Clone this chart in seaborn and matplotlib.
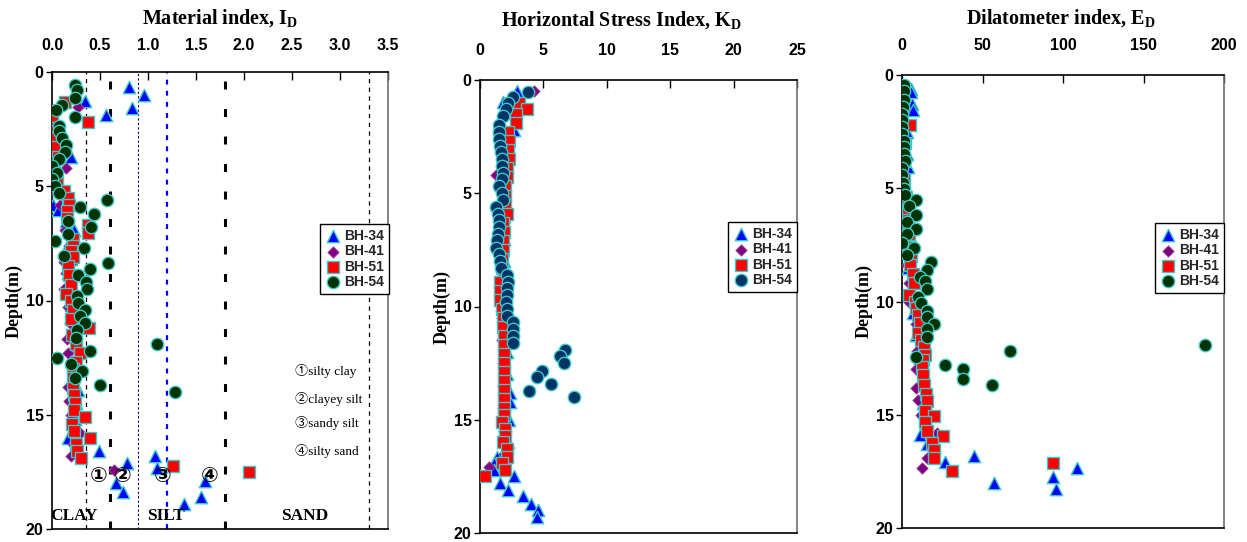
import numpy as np
import matplotlib
matplotlib.use("Agg")
import matplotlib.pyplot as plt
from matplotlib.font_manager import FontProperties
import seaborn as sns

# ---------------- data ----------------
series_names = ["BH-34", "BH-41", "BH-51", "BH-54"]

# Material index I_D
id_bh34_depth = [0.67, 1.0, 1.26, 1.58, 1.88, 2.5, 3.0, 3.7, 4.3, 5.0, 5.8, 6.05, 6.5, 6.9, 7.5,
                 8.2, 8.8, 9.5, 10.2, 10.8, 11.5, 12.0, 12.7, 13.3, 13.9, 14.5, 15.2, 15.6, 16.0,
                 16.6, 16.8, 17.1, 17.35, 17.9, 18.0, 18.4, 18.6, 18.9]
id_bh34_value = [0.80, 0.96, 0.34, 0.83, 0.56, 0.05, 0.08, 0.20, 0.05, 0.02, 0.01, 0.06, 0.15, 0.23, 0.18,
                 0.20, 0.17, 0.18, 0.20, 0.22, 0.25, 0.28, 0.24, 0.22, 0.27, 0.25, 0.24, 0.24, 0.17,
                 0.49, 1.07, 0.78, 1.09, 1.59, 0.67, 0.74, 1.55, 1.37]
id_bh41_depth = [1.55, 2.8, 3.6, 4.2, 5.1, 5.8, 6.9, 7.6, 8.3, 8.8, 9.5, 10.3, 11.0, 11.7, 12.3, 12.9,
                 13.8, 14.4, 15.0, 15.8, 16.3, 16.8, 17.4]
id_bh41_value = [0.27, 0.05, 0.10, 0.15, 0.00, 0.08, 0.14, 0.18, 0.13, 0.15, 0.12, 0.17, 0.19, 0.16, 0.17, 0.20,
                 0.17, 0.18, 0.20, 0.29, 0.22, 0.20, 0.65]
id_bh51_depth = [1.3, 1.92, 2.2, 2.46, 2.6, 2.9, 3.3, 3.7, 4.0, 4.4, 4.8, 5.2, 5.5, 5.8, 6.1, 6.4, 6.7,
                 7.05, 7.3, 7.6, 7.85, 8.1, 8.5, 8.9, 9.3, 9.7, 10.0, 10.4, 10.8, 11.2, 11.5, 11.9,
                 12.3, 12.7, 13.0, 13.4, 13.85, 14.15, 14.5, 14.8, 15.1, 15.4, 15.7, 16.0, 16.3, 16.6,
                 16.9, 17.25, 17.5]
id_bh51_value = [0.135, 0.0, 0.38, 0.0, 0.0, 0.03, 0.04, 0.06, 0.02, 0.03, 0.05, 0.12, 0.17, 0.18, 0.16, 0.16, 0.38,
                 0.37, 0.22, 0.22, 0.20, 0.22, 0.17, 0.18, 0.20, 0.15, 0.20, 0.22, 0.20, 0.39, 0.21, 0.25,
                 0.29, 0.25, 0.22, 0.22, 0.22, 0.23, 0.24, 0.23, 0.34, 0.21, 0.23, 0.40, 0.25, 0.26,
                 0.30, 1.26, 2.05]
id_bh54_depth = [0.55, 0.8, 1.15, 1.45, 1.65, 1.95, 2.35, 2.6, 2.9, 3.2, 3.5, 3.8, 4.1, 4.4, 4.7, 5.0,
                 5.3, 5.6, 5.9, 6.2, 6.5, 6.8, 7.1, 7.4, 7.7, 8.05, 8.35, 8.6, 8.9, 9.2, 9.5, 9.8, 10.1,
                 10.4, 10.7, 11.0, 11.3, 11.65, 11.9, 12.2, 12.5, 12.8, 13.1, 13.4, 13.7, 14.0]
id_bh54_value = [0.24, 0.26, 0.24, 0.10, 0.04, 0.24, 0.07, 0.07, 0.10, 0.15, 0.14, 0.07, 0.00, 0.05, 0.00, 0.03,
                 0.07, 0.57, 0.29, 0.44, 0.17, 0.41, 0.17, 0.03, 0.33, 0.125, 0.58, 0.40, 0.27, 0.35, 0.36, 0.26, 0.27,
                 0.34, 0.29, 0.34, 0.26, 0.25, 1.09, 0.40, 0.05, 0.20, 0.31, 0.24, 0.50, 1.28]

# Horizontal stress index K_D
kd_bh34_depth = [0.5, 0.95, 2.2, 3.0, 4.0, 5.0, 6.0, 7.0, 8.0, 9.0, 10.0, 11.0, 12.0, 13.0, 13.8, 14.2,
                 15.0, 16.0, 16.65, 16.9, 17.2, 17.5, 17.8, 18.1, 18.35, 18.7, 19.0, 19.3]
kd_bh34_value = [2.9, 1.8, 2.7, 2.0, 2.0, 1.8, 1.9, 1.9, 1.9, 2.0, 2.0, 2.0, 2.1, 2.1, 2.4, 2.4,
                 2.3, 2.2, 1.35, 1.1, 1.1, 2.7, 1.6, 2.2, 3.4, 4.0, 4.6, 4.5]
kd_bh41_depth = [0.5, 1.5, 2.5, 4.2, 5.5, 6.5, 7.5, 8.5, 9.5, 10.5, 11.5, 12.5, 13.5, 14.5, 15.5, 16.5, 17.1]
kd_bh41_value = [4.25, 2.2, 2.0, 1.3, 1.6, 1.5, 1.6, 1.7, 1.6, 1.7, 1.7, 1.8, 1.8, 1.8, 1.9, 1.9, 0.7]
kd_bh51_depth = [1.0, 1.3, 1.5, 1.9, 2.3, 2.7, 3.1, 3.5, 3.9, 4.3, 4.7, 5.1, 5.5, 5.9, 6.3, 6.7, 7.1,
                 7.5, 7.9, 8.3, 8.9, 9.3, 9.7, 10.1, 10.5, 10.9, 11.3, 11.7, 12.1, 12.5, 12.9, 13.3,
                 13.7, 14.1, 14.5, 14.8, 15.1, 15.4, 15.7, 16.0, 16.3, 16.65, 16.9, 17.2, 17.5]
kd_bh51_value = [3.1, 3.7, 2.8, 2.8, 2.2, 2.3, 2.2, 2.3, 2.1, 2.1, 2.0, 2.0, 2.0, 2.1, 1.8, 1.9, 1.8,
                 1.8, 1.7, 1.7, 1.6, 1.6, 1.6, 1.7, 1.8, 1.8, 1.9, 1.9, 1.9, 1.9, 1.9, 1.9,
                 1.9, 1.9, 1.9, 1.9, 1.7, 2.0, 2.0, 1.8, 2.1, 2.1, 1.7, 2.0, 0.4]
kd_bh54_depth = [0.53, 0.75, 1.0, 1.3, 1.6, 2.0, 2.3, 2.6, 2.9, 3.2, 3.5, 3.8, 4.1, 4.35, 4.7, 5.0,
                 5.3, 5.6, 5.9, 6.2, 6.5, 6.8, 7.05, 7.4, 7.7, 8.0, 8.3, 8.6, 8.9, 9.2, 9.5, 9.8,
                 10.1, 10.4, 10.7, 11.0, 11.3, 11.6, 11.9, 12.2, 12.5, 12.85, 13.1, 13.4, 13.75, 14.0]
kd_bh54_value = [3.8, 2.6, 2.2, 2.05, 1.8, 1.5, 1.5, 1.5, 1.6, 1.65, 1.7, 1.7, 1.8, 1.7, 1.5, 1.7,
                 1.8, 1.3, 1.4, 1.5, 1.5, 1.4, 1.35, 1.3, 1.5, 1.6, 1.65, 2.1, 2.2, 2.15, 2.15, 2.05,
                 2.1, 2.1, 2.6, 2.6, 2.6, 2.6, 6.7, 6.3, 6.6, 4.9, 4.5, 5.6, 3.85, 7.4]

# Dilatometer index E_D
ed_bh34_depth = [0.6, 0.75, 1.3, 1.55, 2.5, 3.5, 4.05, 5.0, 5.9, 6.5, 7.5, 8.5, 9.5, 10.5, 11.5, 12.5,
                 13.5, 14.5, 15.2, 15.9, 16.3, 16.8, 17.1, 17.35, 17.75, 18.0, 18.3]
ed_bh34_value = [5.5, 5.5, 6.5, 7.0, 3.0, 3.0, 3.6, 2.0, 1.0, 2.0, 3.0, 4.0, 5.0, 7.0, 9.0, 11.0,
                 12.0, 13.0, 14.0, 11.0, 15.5, 44.7, 26.7, 108.5, 93.8, 57.0, 95.6]
ed_bh41_depth = [1.5, 3.0, 4.5, 6.0, 7.2, 8.4, 9.2, 10.0, 11.0, 12.2, 13.0, 13.8, 14.35, 15.0, 15.8, 16.9, 17.35]
ed_bh41_value = [2.0, 1.0, 1.0, 3.0, 3.0, 3.0, 4.3, 4.3, 8.7, 9.3, 9.0, 8.7, 10.0, 12.0, 21.7, 15.5, 12.4]
ed_bh51_depth = [1.3, 2.2, 3.0, 3.8, 4.6, 5.4, 5.9, 6.4, 7.0, 7.6, 8.0, 8.4, 8.8, 9.2, 9.7, 10.0, 10.3,
                 10.6, 10.95, 11.4, 11.7, 12.0, 12.35, 12.6, 12.9, 13.25, 13.7, 14.1, 14.4, 14.85, 15.05,
                 15.3, 15.7, 15.95, 16.25, 16.55, 16.9, 17.15, 17.5]
ed_bh51_value = [0.5, 5.0, 2.0, 1.5, 1.5, 2.5, 3.5, 4.0, 4.5, 5.0, 5.5, 5.0, 6.8, 7.5, 4.3, 8.0, 9.0,
                 10.0, 11.0, 10.0, 12.0, 13.7, 14.3, 13.0, 12.4, 13.0, 13.7, 14.9, 15.5, 14.3, 20.0,
                 14.3, 15.5, 25.5, 18.6, 20.0, 20.0, 94.0, 31.0]
ed_bh54_depth = [0.44, 0.7, 1.1, 1.4, 1.7, 2.0, 2.3, 2.6, 2.9, 3.2, 3.5, 3.8, 4.1, 4.4, 4.75, 5.05, 5.3,
                 5.5, 5.8, 6.2, 6.5, 6.8, 7.0, 7.4, 7.65, 7.95, 8.25, 8.6, 8.9, 9.1, 9.45, 9.8, 10.05,
                 10.4, 10.7, 11.0, 11.2, 11.55, 11.9, 12.2, 12.45, 12.8, 13.0, 13.4, 13.7]
ed_bh54_value = [1.2, 1.2, 1.2, 0.6, 0.0, 0.3, 0.3, 0.3, 1.0, 1.5, 1.5, 2.0, 0.0, 0.0, 0.8, 1.5, 2.0,
                 8.7, 4.3, 8.7, 2.9, 8.7, 2.9, 0.0, 7.5, 2.9, 18.0, 15.5, 11.0, 14.0, 15.5, 10.0, 11.8,
                 15.5, 15.5, 20.0, 15.5, 15.5, 188.0, 67.0, 8.7, 27.0, 38.0, 38.0, 56.0]

# axis ticks
depth_ticks = [0, 5, 10, 15, 20]
id_ticks = [0.0, 0.5, 1.0, 1.5, 2.0, 2.5, 3.0, 3.5]
kd_ticks = [0, 5, 10, 15, 20, 25]
ed_ticks = [0, 50, 100, 150, 200]

# I_D classification boundaries and labels
id_boundaries = [0.35, 0.6, 0.9, 1.2, 1.8, 3.3]
soil_zone_labels = ["CLAY", "SILT", "SAND"]
soil_zone_x = [0.23, 1.19, 2.63]
circled_marks = ["\u2460", "\u2461", "\u2462", "\u2463"]
circled_x = [0.48, 0.74, 1.15, 1.64]
soil_type_labels = ["\u2460silty clay", "\u2461clayey silt", "\u2462sandy silt", "\u2463silty sand"]
soil_type_depth = [13.1, 14.3, 15.35, 16.6]

# ---------------- style ----------------
sns.set_theme(style="white")
plt.rcParams["font.family"] = ["Liberation Sans", "DejaVu Sans"]
plt.rcParams["mathtext.fontset"] = "custom"
plt.rcParams["mathtext.rm"] = "Liberation Serif:bold"
plt.rcParams["mathtext.it"] = "Liberation Serif:bold"
plt.rcParams["mathtext.bf"] = "Liberation Serif:bold"

EDGE = "#3CC8C8"
styles = {
    "BH-34": dict(marker="^", color="#0000FF", edgecolor=EDGE, s=80, linewidth=1.0),
    "BH-41": dict(marker="D", color="#800080", edgecolor="#A050A0", s=34, linewidth=0.6),
    "BH-51": dict(marker="s", color="#FF0000", edgecolor=EDGE, s=72, linewidth=1.0),
    "BH-54": dict(marker="o", color="#003300", edgecolor=EDGE, s=80, linewidth=1.0),
}

fig = plt.figure(figsize=(12.47, 5.42), dpi=100)
W, H = 1247.0, 542.0


def px_axes(left, top, right, bottom):
    return fig.add_axes([left / W, 1 - bottom / H, (right - left) / W, (bottom - top) / H])


ax1 = px_axes(52, 72, 388, 529)
ax2 = px_axes(480, 80, 797, 533)
ax3 = px_axes(902, 75, 1224, 528)

panels = [
    (ax1, [(id_bh34_value, id_bh34_depth), (id_bh41_value, id_bh41_depth),
           (id_bh51_value, id_bh51_depth), (id_bh54_value, id_bh54_depth)],
     (0, 3.5), id_ticks, [f"{t:.1f}" for t in id_ticks], 14, "#003300"),
    (ax2, [(kd_bh34_value, kd_bh34_depth), (kd_bh41_value, kd_bh41_depth),
           (kd_bh51_value, kd_bh51_depth), (kd_bh54_value, kd_bh54_depth)],
     (0, 25), kd_ticks, [str(t) for t in kd_ticks], 16, "#003366"),
    (ax3, [(ed_bh34_value, ed_bh34_depth), (ed_bh41_value, ed_bh41_depth),
           (ed_bh51_value, ed_bh51_depth), (ed_bh54_value, ed_bh54_depth)],
     (0, 200), ed_ticks, [str(t) for t in ed_ticks], 16, "#003300"),
]

legend_font = FontProperties(family="Liberation Sans", weight="bold", size=10)
legend_anchor = [(389, 224), (797, 222), (1224, 223)]

for (ax, series, xlim, xt, xtl, pad, circ_color), anchor in zip(panels, legend_anchor):
    for name, (vals, deps) in zip(series_names, series):
        st = dict(styles[name])
        if name == "BH-54":
            st["color"] = circ_color
        sns.scatterplot(x=vals, y=deps, ax=ax, label=name, zorder=3, **st)
    ax.set_xlim(*xlim)
    ax.set_ylim(20, 0)
    ax.xaxis.tick_top()
    ax.set_xticks(xt)
    ax.set_xticklabels(xtl)
    ax.set_yticks(depth_ticks)
    ax.set_yticklabels([str(t) for t in depth_ticks])
    for lbl in ax.get_xticklabels() + ax.get_yticklabels():
        lbl.set_fontfamily("Liberation Sans")
        lbl.set_fontweight("bold")
        lbl.set_fontsize(11.5)
        lbl.set_color("black")
    ax.tick_params(axis="x", direction="in", length=6, width=1, pad=pad, colors="black",
                   top=True, bottom=False)
    ax.tick_params(axis="y", direction="out", length=4, width=1, pad=2, left=True, right=False,
                   colors="black")
    ax.set_xlabel("")
    ax.set_ylabel("Depth(m)", fontfamily="Liberation Serif", fontweight="bold", fontsize=13,
                  labelpad=2, color="black")
    for side in ["left", "top", "bottom"]:
        ax.spines[side].set_color("black")
        ax.spines[side].set_linewidth(1.2)
    ax.spines["right"].set_color("#707070")
    ax.spines["right"].set_linewidth(1.2)
    ax.grid(False)
    leg = ax.legend(loc="upper right", bbox_to_anchor=(anchor[0] / W, 1 - anchor[1] / H),
                    bbox_transform=fig.transFigure, frameon=True, fancybox=False,
                    framealpha=1, edgecolor="black", prop=legend_font,
                    handletextpad=0.2, labelspacing=0.1, borderpad=0.35,
                    handlelength=1.2, borderaxespad=0)
    leg.get_frame().set_linewidth(1.0)

# I_D classification boundary lines
line_styles = [
    dict(color="black", lw=0.9, ls=(0, (3.5, 3.5))),
    dict(color="black", lw=2.2, ls=(0, (2.6, 6.4))),
    dict(color="#000080", lw=0.8, ls=(0, (2, 2))),
    dict(color="#0000FF", lw=1.6, ls=(0, (2.2, 2.8))),
    dict(color="black", lw=2.2, ls=(0, (2.6, 6.4))),
    dict(color="black", lw=0.9, ls=(0, (3.5, 3.5))),
]
for xb, st in zip(id_boundaries, line_styles):
    ax1.axvline(xb, zorder=2, **st)

for lab, xz in zip(soil_zone_labels, soil_zone_x):
    ax1.text(xz, 19.45, lab, ha="center", va="center", fontfamily="Liberation Serif",
             fontweight="bold", fontsize=12.5, zorder=4, color="black")

for mk, xc in zip(circled_marks, circled_x):
    ax1.text(xc, 17.7, mk, ha="center", va="center", family=["DejaVu Sans", "Noto Sans CJK SC"],
             fontweight="bold", fontsize=15, zorder=5, color="black")

for lab, dy in zip(soil_type_labels, soil_type_depth):
    ax1.text(2.53, dy, lab, ha="left", va="center", family=["Liberation Serif", "Noto Sans CJK SC"],
             fontsize=9.5, zorder=4, color="black")

# panel titles
title_kw = dict(ha="center", va="center", fontfamily="Liberation Serif", fontweight="bold",
                fontsize=14.5, color="black")
fig.text(220 / W, 1 - 18 / H, "Material index, $I_D$", **title_kw)
fig.text(621 / W, 1 - 20 / H, "Horizontal Stress Index, $K_D$", **title_kw)
fig.text(1061 / W, 1 - 18 / H, "Dilatometer index, $E_D$", **title_kw)

fig.savefig("out.png", dpi=100, facecolor="white")
